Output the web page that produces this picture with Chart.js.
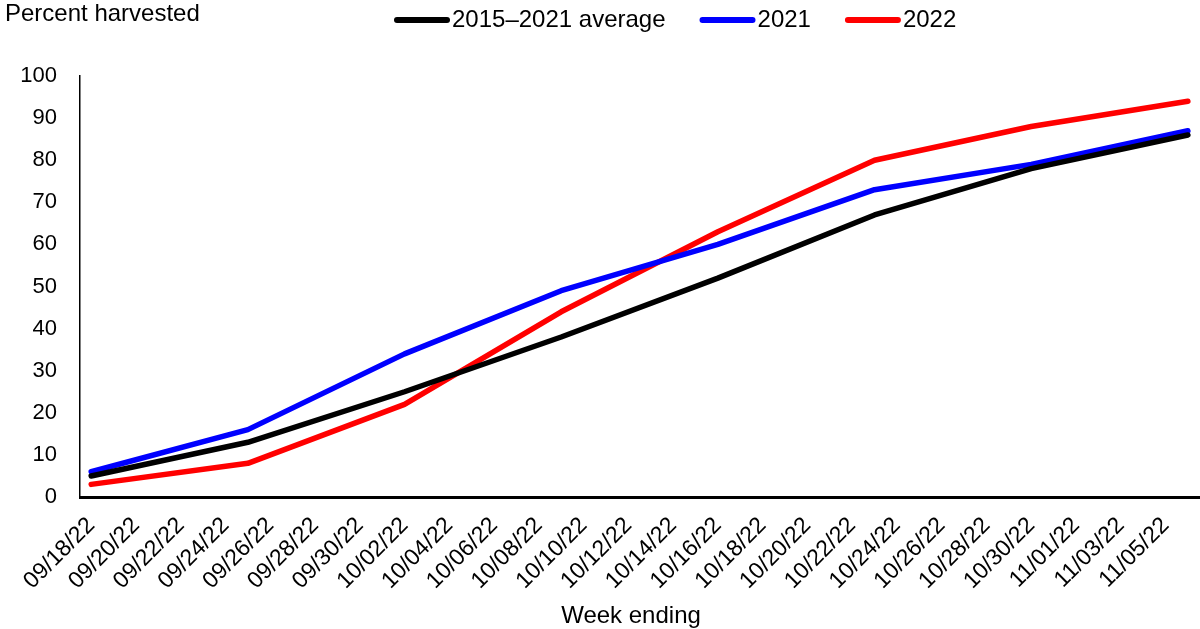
<!DOCTYPE html>
<html>
<head>
<meta charset="utf-8">
<title>Percent harvested</title>
<script src="https://cdn.jsdelivr.net/npm/chart.js@4.4.1/dist/chart.umd.min.js"></script>
<style>
  html, body { margin: 0; padding: 0; background: #fff; }
  #wrap { width: 1200px; height: 629px; }
</style>
</head>
<body>
<div id="wrap"><canvas id="chart" width="1200" height="629"></canvas></div>
<script>
// Week-ending dates of the crop progress reports
const weekEnding = ['09/18/22', '09/25/22', '10/02/22', '10/09/22', '10/16/22', '10/23/22', '10/30/22', '11/06/22'];

// Percent of the crop harvested by week
const avg2015to2021 = [5, 13, 25, 38, 52, 67, 78, 86];
const year2021 = [6, 16, 34, 49, 60, 73, 79, 87];
const year2022 = [3, 8, 22, 44, 63, 80, 88, 94];

// Date axis labels (every second day)
const dateTicks = ['09/18/22', '09/20/22', '09/22/22', '09/24/22', '09/26/22', '09/28/22', '09/30/22',
  '10/02/22', '10/04/22', '10/06/22', '10/08/22', '10/10/22', '10/12/22', '10/14/22', '10/16/22',
  '10/18/22', '10/20/22', '10/22/22', '10/24/22', '10/26/22', '10/28/22', '10/30/22', '11/01/22',
  '11/03/22', '11/05/22'];

const yTicks = [0, 10, 20, 30, 40, 50, 60, 70, 80, 90, 100];

const seriesNames = ['2015\u20132021 average', '2021', '2022'];
const seriesColors = ['#000000', '#0000ff', '#ff0000'];

// Convert an mm/dd/yy string into a day number counted from the first report
function toUtc(s) {
  const [m, d, y] = s.split('/').map(Number);
  return Date.UTC(2000 + y, m - 1, d);
}
const day0 = toUtc(weekEnding[0]);
const dayNum = s => Math.round((toUtc(s) - day0) / 86400000);
const lastDay = dayNum(weekEnding[weekEnding.length - 1]);
const tickByDay = {};
dateTicks.forEach(s => { tickByDay[dayNum(s)] = s; });

const FONT = "'Liberation Sans', Arial, Helvetica, sans-serif";

function series(values) {
  return weekEnding.map((w, i) => ({ x: dayNum(w), y: values[i] }));
}

// Legend with line swatches and the axis titles, drawn on the canvas
const annotations = {
  id: 'annotations',
  afterDraw(chart) {
    const ctx = chart.ctx;
    ctx.save();
    ctx.fillStyle = '#000';
    ctx.font = `24px ${FONT}`;
    ctx.textBaseline = 'middle';
    ctx.textAlign = 'left';
    ctx.fillText('Percent harvested', 5, 14);

    ctx.textAlign = 'center';
    ctx.fillText('Week ending', 631, 616);

    // legend
    let x = 397;
    const y = 20;
    ctx.textAlign = 'left';
    chart.data.datasets.forEach((ds, i) => {
      ctx.strokeStyle = ds.borderColor;
      ctx.lineWidth = 6;
      ctx.lineCap = 'round';
      ctx.beginPath();
      ctx.moveTo(x, y);
      ctx.lineTo(x + 50, y);
      ctx.stroke();
      x += 55;
      ctx.fillStyle = '#000';
      ctx.fillText(ds.label, x, y);
      x += ctx.measureText(ds.label).width + 37;
    });
    ctx.restore();
  }
};

const datasets = [avg2015to2021, year2021, year2022].map((vals, i) => ({
  label: seriesNames[i],
  data: series(vals),
  borderColor: seriesColors[i],
  backgroundColor: seriesColors[i],
  borderWidth: 5.5,
  borderCapStyle: 'round',
  borderJoinStyle: 'round',
  pointRadius: 0,
  pointHoverRadius: 0,
  tension: 0,
  fill: false
}));

new Chart(document.getElementById('chart'), {
  type: 'line',
  data: { datasets },
  plugins: [annotations],
  options: {
    responsive: false,
    animation: false,
    events: [],
    layout: { padding: { top: 76, left: 0, right: 0, bottom: 0 } },
    plugins: {
      legend: { display: false },
      tooltip: { enabled: false }
    },
    scales: {
      x: {
        type: 'linear',
        min: -0.5,
        max: lastDay + 0.5,
        grid: { display: false, drawTicks: false },
        border: { display: true, color: '#000', width: 3 },
        afterBuildTicks(scale) {
          scale.ticks = Object.keys(tickByDay).map(k => ({ value: Number(k) }));
        },
        afterFit(scale) { scale.height = 132; },
        ticks: {
          autoSkip: false,
          minRotation: 45,
          maxRotation: 45,
          padding: 15,
          color: '#000',
          font: { family: FONT, size: 23 },
          callback: v => tickByDay[v] || ''
        }
      },
      y: {
        min: 0,
        max: 100,
        grid: { display: false, drawTicks: false },
        border: { display: true, color: '#000', width: 1.5 },
        afterBuildTicks(scale) {
          scale.ticks = yTicks.map(v => ({ value: v }));
        },
        afterFit(scale) { scale.width = 80; },
        ticks: {
          padding: 23,
          color: '#000',
          font: { family: FONT, size: 22 }
        }
      }
    }
  }
});
</script>
</body>
</html>
